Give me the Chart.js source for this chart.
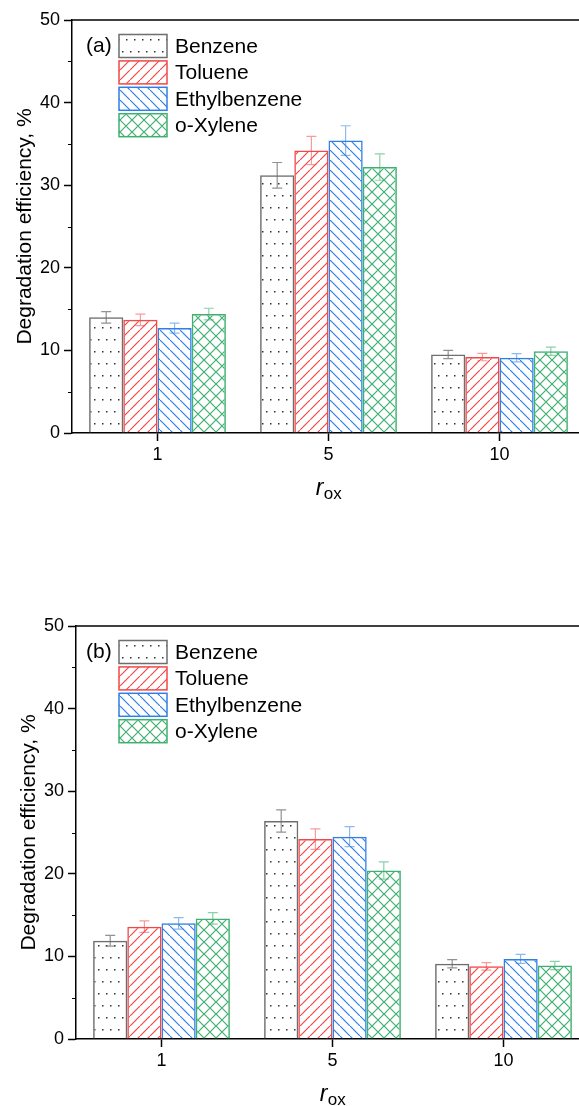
<!DOCTYPE html>
<html>
<head>
<meta charset="utf-8">
<script src="https://cdn.jsdelivr.net/npm/chart.js@4"></script>
<style>
  html, body { margin: 0; padding: 0; background: #fff; overflow: hidden; }
  #wrap { position: relative; width: 579px; height: 1106px; overflow: hidden; }
  canvas { position: absolute; left: 0; }
  #chartA { top: 0; }
  #chartB { top: 606px; }
</style>
</head>
<body>
<div id="wrap">
  <canvas id="chartA" width="600" height="500"></canvas>
  <canvas id="chartB" width="600" height="500"></canvas>
</div>
<script>
// Datos
const categories = ['1', '5', '10'];
const seriesNames = ['Benzene', 'Toluene', 'Ethylbenzene', 'o-Xylene'];
const yTicks = [0, 10, 20, 30, 40, 50];

// panel (a)
const aBenzene = [14.0, 31.2, 9.5];
const aToluene = [13.7, 34.2, 9.2];
const aEthylbenzene = [12.7, 35.4, 9.1];
const aXylene = [14.4, 32.2, 9.9];
const aBenzeneErr = [0.7, 1.55, 0.5];
const aTolueneErr = [0.7, 1.7, 0.45];
const aEthylbenzeneErr = [0.6, 1.8, 0.5];
const aXyleneErr = [0.7, 1.6, 0.5];

// panel (b)
const bBenzene = [11.9, 26.4, 9.1];
const bToluene = [13.6, 24.2, 8.8];
const bEthylbenzene = [14.0, 24.5, 9.7];
const bXylene = [14.6, 20.4, 8.9];
const bBenzeneErr = [0.65, 1.35, 0.5];
const bTolueneErr = [0.7, 1.25, 0.45];
const bEthylbenzeneErr = [0.7, 1.2, 0.55];
const bXyleneErr = [0.7, 1.05, 0.5];

const FONT = 'Liberation Sans, Arial, sans-serif';
const colors = ['rgb(110,110,110)', 'rgb(242,72,72)', 'rgb(47,127,230)', 'rgb(63,176,112)'];
const errColors = ['rgba(110,110,110,0.75)', 'rgba(242,72,72,0.55)', 'rgba(47,127,230,0.55)', 'rgba(63,176,112,0.6)'];
const kinds = ['dots', 'slash', 'back', 'cross'];

// Crear patrones de relleno
function makePattern(kind, color) {
    let c = document.createElement('canvas');
    let g = c.getContext('2d');
    if (kind === 'dots') {
        c.width = 8; c.height = 24;
        g.fillStyle = '#333';
        g.fillRect(2, 3, 1.5, 1.5);
        g.fillRect(6, 15, 1.5, 1.5);
        return g.createPattern(c, 'repeat');
    }
    let s = kind === 'cross' ? 12 : 10;
    c.width = s;
    c.height = s;
    g.lineWidth = 1.2;
    g.strokeStyle = color;
    g.beginPath();
    if (kind === 'slash' || kind === 'cross') {
        g.moveTo(-1, s + 1);
        g.lineTo(s + 1, -1);
    }
    if (kind === 'back' || kind === 'cross') {
        g.moveTo(-1, -1);
        g.lineTo(s + 1, s + 1);
    }
    g.stroke();
    return g.createPattern(c, 'repeat');
}
const patterns = kinds.map((k, i) => makePattern(k, colors[i]));

// Barras de error
const errorBarPlugin = {
    id: 'errorBars',
    afterDatasetsDraw(chart) {
        let ctx = chart.ctx;
        let yScale = chart.scales.y;
        chart.data.datasets.forEach((ds, i) => {
            let meta = chart.getDatasetMeta(i);
            meta.data.forEach((bar, j) => {
                let v = ds.data[j], e = ds.errorBars[j];
                let yt = yScale.getPixelForValue(v + e);
                let yb = yScale.getPixelForValue(v - e);
                ctx.save();
                ctx.strokeStyle = errColors[i];
                ctx.lineWidth = 1.2;
                ctx.beginPath();
                ctx.moveTo(bar.x, yt); ctx.lineTo(bar.x, yb);
                ctx.moveTo(bar.x - 5, yt); ctx.lineTo(bar.x + 5, yt);
                ctx.moveTo(bar.x - 5, yb); ctx.lineTo(bar.x + 5, yb);
                ctx.stroke();
                ctx.restore();
            });
        });
    }
};

// Marco, ticks menores, títulos y leyenda
const decorPlugin = {
    id: 'decor',
    afterDraw(chart) {
        let ctx = chart.ctx;
        let a = chart.chartArea;
        let yScale = chart.scales.y;
        let opts = chart.options.plugins.decor;
        ctx.save();
        ctx.strokeStyle = '#000';
        ctx.lineWidth = 1.5;
        ctx.beginPath();
        ctx.moveTo(a.left, a.top); ctx.lineTo(a.right, a.top);
        ctx.stroke();
        // ticks menores
        ctx.lineWidth = 1.2;
        ctx.beginPath();
        for (let v = 5; v < 50; v += 10) {
            let y = Math.round(yScale.getPixelForValue(v)) + 0.5;
            ctx.moveTo(a.left - 4, y); ctx.lineTo(a.left, y);
        }
        ctx.stroke();

        // título eje Y
        ctx.fillStyle = '#000';
        ctx.font = '21px ' + FONT;
        ctx.translate(a.left - 41, (a.top + a.bottom) / 2);
        ctx.rotate(-Math.PI / 2);
        ctx.textAlign = 'center';
        ctx.textBaseline = 'alphabetic';
        ctx.fillText('Degradation efficiency, %', 0, 0);
        ctx.setTransform(chart.currentDevicePixelRatio, 0, 0, chart.currentDevicePixelRatio, 0, 0);

        // título eje X: r con subíndice ox
        let cx = chart.scales.x.getPixelForValue(1);
        ctx.textAlign = 'left';
        ctx.font = 'italic 23px ' + FONT;
        let wr = ctx.measureText('r').width;
        ctx.font = '17px ' + FONT;
        let wo = ctx.measureText('ox').width;
        let x0 = cx - (wr + wo) / 2;
        let by = a.bottom + 62;
        ctx.font = 'italic 23px ' + FONT;
        ctx.fillText('r', x0, by);
        ctx.font = '17px ' + FONT;
        ctx.fillText('ox', x0 + wr + 0.5, by + 4);

        // leyenda
        ctx.font = '21px ' + FONT;
        ctx.textBaseline = 'middle';
        ctx.fillText(opts.tag, 86, a.top + 26);
        chart.data.datasets.forEach((ds, i) => {
            let yc = a.top + 26 + i * 26.4;
            ctx.fillStyle = '#fff';
            ctx.fillRect(119, yc - 11.5, 48, 23);
            ctx.fillStyle = patterns[i];
            ctx.fillRect(119, yc - 11.5, 48, 23);
            ctx.strokeStyle = colors[i];
            ctx.lineWidth = 1.5;
            ctx.strokeRect(119, yc - 11.5, 48, 23);
            ctx.fillStyle = '#000';
            ctx.fillText(ds.label, 175, yc + 1);
        });
        ctx.restore();
    }
};

function buildChart(canvasId, tag, values, errors, leftWidth, rightPad) {
    let datasets = seriesNames.map((name, i) => ({
        label: name,
        data: values[i],
        errorBars: errors[i],
        backgroundColor: patterns[i],
        borderColor: colors[i],
        borderWidth: 1.5,
        barPercentage: 1.0,
        categoryPercentage: 0.8
    }));
    return new Chart(document.getElementById(canvasId), {
        type: 'bar',
        data: { labels: categories, datasets: datasets },
        options: {
            responsive: false,
            animation: false,
            devicePixelRatio: 1,
            layout: { padding: { top: 20, left: 0, right: rightPad, bottom: 0 } },
            plugins: {
                legend: { display: false },
                tooltip: { enabled: false },
                decor: { tag: tag }
            },
            scales: {
                x: {
                    grid: { display: true, drawOnChartArea: false, offset: false, tickLength: 8, tickColor: '#000', tickWidth: 1.5 },
                    border: { color: '#000', width: 1.5 },
                    ticks: { color: '#000', font: { family: FONT, size: 18 }, padding: 3, maxRotation: 0 },
                    afterFit: s => { s.height = 67; }
                },
                y: {
                    min: 0,
                    max: 50,
                    afterBuildTicks: s => { s.ticks = yTicks.map(v => ({ value: v })); },
                    grid: { display: true, drawOnChartArea: false, tickLength: 8, tickColor: '#000', tickWidth: 1.5 },
                    border: { color: '#000', width: 1.5 },
                    ticks: { color: '#000', font: { family: FONT, size: 18 }, padding: 4 },
                    afterFit: s => { s.width = leftWidth; }
                }
            }
        },
        plugins: [errorBarPlugin, decorPlugin]
    });
}

buildChart('chartA', '(a)',
    [aBenzene, aToluene, aEthylbenzene, aXylene],
    [aBenzeneErr, aTolueneErr, aEthylbenzeneErr, aXyleneErr], 72, 15);
buildChart('chartB', '(b)',
    [bBenzene, bToluene, bEthylbenzene, bXylene],
    [bBenzeneErr, bTolueneErr, bEthylbenzeneErr, bXyleneErr], 76, 11);
</script>
</body>
</html>
